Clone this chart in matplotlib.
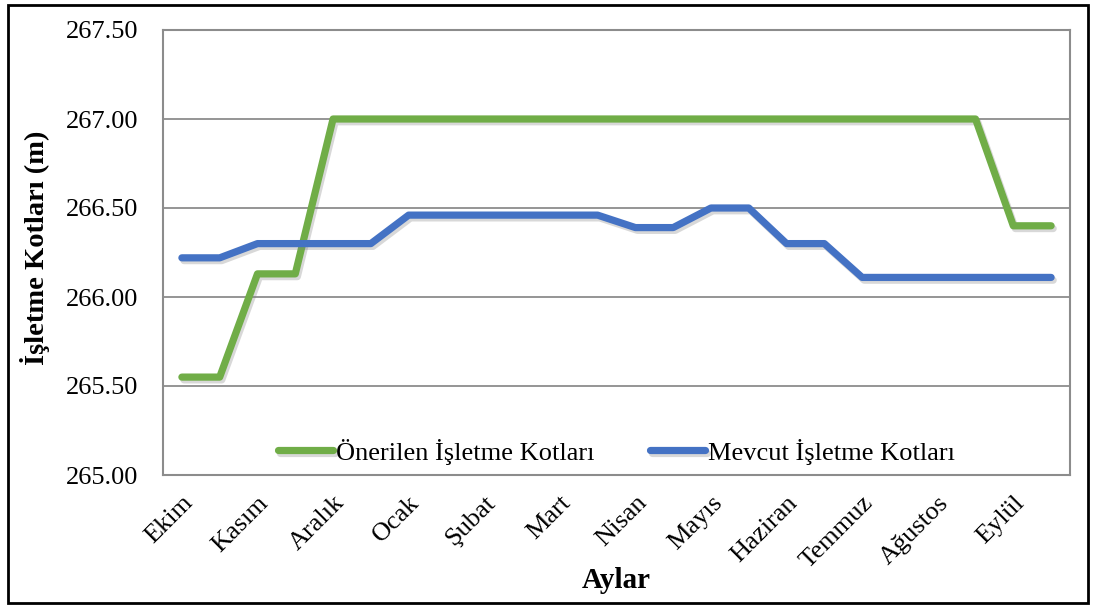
import matplotlib
matplotlib.use("Agg")
import matplotlib.pyplot as plt
import matplotlib.patheffects as pe
from matplotlib.patches import Rectangle

# two readings per month (start / end of month)
months = ["Ekim", "Kasım", "Aralık", "Ocak", "Şubat", "Mart", "Nisan",
          "Mayıs", "Haziran", "Temmuz", "Ağustos", "Eylül"]

onerilen = [265.55, 265.55, 266.13, 266.13, 267.00, 267.00, 267.00, 267.00,
            267.00, 267.00, 267.00, 267.00, 267.00, 267.00, 267.00, 267.00,
            267.00, 267.00, 267.00, 267.00, 267.00, 267.00, 266.40, 266.40]

mevcut = [266.22, 266.22, 266.30, 266.30, 266.30, 266.30, 266.46, 266.46,
          266.46, 266.46, 266.46, 266.46, 266.39, 266.39, 266.50, 266.50,
          266.30, 266.30, 266.11, 266.11, 266.11, 266.11, 266.11, 266.11]

yticks = [265.00, 265.50, 266.00, 266.50, 267.00, 267.50]

plt.rcParams['font.family'] = ['Liberation Serif', 'DejaVu Serif']

W, H = 1094, 608
fig = plt.figure(figsize=(W / 100, H / 100), dpi=100)
ax = fig.add_axes([163 / W, 1 - 475 / H, (1070 - 163) / W, (475 - 30) / H])

x = list(range(len(onerilen)))
shadow = [pe.SimpleLineShadow(offset=(1.5, -2), shadow_color='gray', alpha=0.3),
          pe.Normal()]
ax.plot(x, onerilen, color='#70AD47', lw=5.2, solid_capstyle='round',
        solid_joinstyle='round', label='Önerilen İşletme Kotları', path_effects=shadow)
ax.plot(x, mevcut, color='#4472C4', lw=5.2, solid_capstyle='round',
        solid_joinstyle='round', label='Mevcut İşletme Kotları', path_effects=shadow)

ax.set_xlim(-0.5, len(x) - 0.5)
ax.set_ylim(265.0, 267.5)
ax.set_yticks(yticks)
ax.set_yticklabels([f"{v:.2f}" for v in yticks], fontsize=19)
ax.set_xticks(x[::2])
ax.set_xticklabels(months, rotation=45, ha='right', rotation_mode='anchor', fontsize=19)
ax.tick_params(axis='y', length=0, pad=18)
ax.tick_params(axis='x', length=0, pad=12)
ax.grid(axis='y', color='#8c8c8c', lw=1.3)
ax.set_axisbelow(True)
for sp in ax.spines.values():
    sp.set_color('#8c8c8c')
    sp.set_linewidth(1.5)

fig.text(35 / W, 1 - 248 / H, 'İşletme Kotları (m)', rotation=90, fontsize=20.5,
         fontweight='bold', ha='center', va='center')
fig.text(616 / W, 1 - 580 / H, 'Aylar', fontsize=21, fontweight='bold',
         ha='center', va='center')

ax.legend(loc='lower center', ncol=2, frameon=False, fontsize=19,
          bbox_to_anchor=(0.5, -0.03), handlelength=2.1, handletextpad=0.1,
          columnspacing=2.1)

fig.patches.append(Rectangle((8 / W, 5 / H), 1080 / W, 598 / H,
                             transform=fig.transFigure, fill=False,
                             edgecolor='black', lw=2))

fig.savefig('out.png', dpi=100)
